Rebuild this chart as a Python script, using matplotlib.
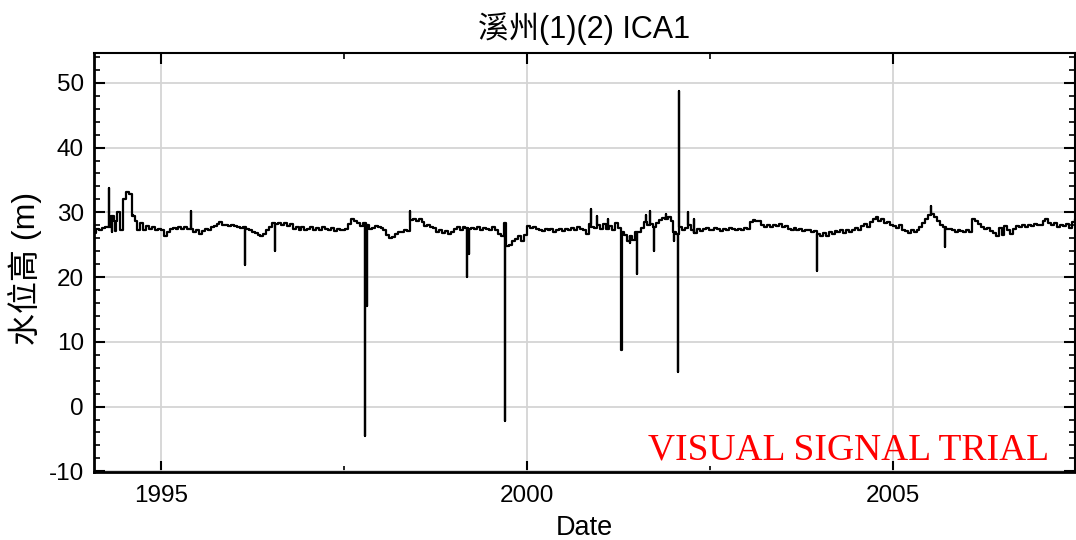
import matplotlib
matplotlib.use("Agg")
import matplotlib.pyplot as plt
from matplotlib.ticker import MultipleLocator, FixedLocator, FormatStrFormatter

plt.rcParams['font.family'] = ['Liberation Sans', 'Noto Sans CJK TC']
plt.rcParams['axes.unicode_minus'] = False

title_text = "溪州(1)(2) ICA1"
y_label = "水位高 (m)"
x_label = "Date"
watermark = "VISUAL SIGNAL TRIAL"

# Baseline water level, 25 samples per year (roughly every two weeks)
samples_per_year = 25
lvl_1994 = [26.4, 26.6, 26.8, 27.4, 27.2, 27.6, 27.7, 27.8, 29.5, 28.6, 30.0, 27.2, 32.0,
            33.2, 32.8, 29.5, 28.6, 27.3, 28.4, 27.2, 27.9, 27.4, 27.7, 27.3, 27.5]
lvl_1995 = [27.2, 26.3, 26.9, 27.5, 27.6, 27.4, 27.7, 27.5, 27.8, 27.4, 27.5, 27.0, 27.3,
            26.7, 27.1, 27.5, 27.3, 27.8, 27.9, 28.2, 28.5, 28.1, 28.0, 27.9, 28.0]
lvl_1996 = [27.9, 27.8, 27.6, 27.7, 27.5, 27.2, 27.0, 26.8, 26.5, 26.3, 26.7, 27.2, 27.8,
            28.3, 28.2, 28.4, 28.1, 28.3, 27.9, 28.2, 27.5, 27.8, 27.3, 27.7, 27.2]
lvl_1997 = [27.4, 27.7, 27.2, 27.6, 27.3, 27.8, 27.5, 27.2, 27.6, 27.1, 27.5, 27.3, 27.2,
            27.4, 28.2, 29.0, 28.6, 28.3, 27.9, 28.4, 28.0, 27.5, 27.6, 27.9, 27.7]
lvl_1998 = [27.6, 27.2, 26.5, 26.0, 26.2, 26.6, 26.9, 27.0, 27.3, 27.1, 28.8, 28.9, 28.6,
            29.0, 28.5, 27.9, 28.1, 27.8, 27.6, 27.0, 27.2, 26.8, 27.1, 26.7, 27.0]
lvl_1999 = [27.5, 27.7, 27.3, 27.8, 27.6, 27.4, 27.6, 27.4, 27.8, 27.2, 27.6, 27.5, 27.3,
            27.7, 27.2, 26.6, 26.4, 28.3, 24.8, 25.0, 25.5, 25.9, 26.3, 25.6, 26.5]
lvl_2000 = [27.9, 27.6, 27.8, 27.5, 27.3, 27.1, 27.4, 27.2, 27.5, 27.0, 27.3, 27.4, 27.1,
            27.5, 27.2, 27.6, 27.3, 27.7, 27.4, 27.2, 26.6, 28.2, 27.8, 27.6, 28.0]
lvl_2001 = [27.5, 28.2, 27.4, 27.9, 27.2, 28.3, 27.6, 26.9, 26.5, 25.6, 26.4, 25.8, 26.9,
            27.0, 27.6, 28.5, 28.0, 28.2, 27.8, 28.3, 28.8, 29.1, 28.9, 29.2, 28.7]
lvl_2002 = [27.0, 26.6, 27.8, 27.3, 27.6, 28.0, 27.2, 26.8, 27.5, 27.1, 27.4, 27.6, 27.2,
            27.3, 27.6, 27.4, 27.1, 27.5, 27.3, 27.6, 27.4, 27.2, 27.5, 27.3, 27.6]
lvl_2003 = [27.5, 28.5, 28.8, 28.7, 28.6, 28.0, 27.8, 28.1, 27.7, 28.0, 27.9, 28.2, 27.8,
            27.9, 27.5, 27.3, 27.6, 27.2, 27.4, 27.1, 27.3, 27.2, 27.0, 27.1, 26.6]
lvl_2004 = [26.3, 26.8, 26.4, 27.0, 26.6, 27.1, 26.9, 27.2, 26.8, 27.3, 27.0, 27.2, 27.6,
            27.3, 27.9, 28.2, 27.8, 28.5, 28.9, 29.2, 28.7, 28.9, 28.3, 28.5, 28.0]
lvl_2005 = [27.9, 27.6, 28.0, 27.3, 27.1, 26.8, 27.2, 26.9, 27.3, 27.8, 28.3, 29.0, 29.6,
            29.8, 29.2, 28.6, 28.0, 27.7, 27.4, 27.5, 27.2, 27.0, 27.3, 27.1, 26.9]
lvl_2006 = [27.2, 27.0, 28.9, 28.6, 28.2, 27.8, 27.5, 27.6, 27.1, 26.8, 26.3, 27.6, 26.5,
            27.9, 27.2, 26.7, 27.5, 27.9, 27.7, 28.1, 27.8, 28.0, 27.9, 28.2, 28.0]
lvl_2007 = [28.1, 28.6, 29.0, 28.4, 28.0, 28.3, 27.8, 28.1, 27.9, 28.2, 27.6, 28.5, 29.0, 28.8]

years = [1994, 1995, 1996, 1997, 1998, 1999, 2000, 2001, 2002, 2003, 2004, 2005, 2006, 2007]
yearly_levels = [lvl_1994, lvl_1995, lvl_1996, lvl_1997, lvl_1998, lvl_1999, lvl_2000,
                 lvl_2001, lvl_2002, lvl_2003, lvl_2004, lvl_2005, lvl_2006, lvl_2007]

# Single-day readings that jump away from the baseline
spike_times = [1994.29, 1994.33, 1994.38, 1994.62, 1995.41, 1996.15, 1996.56, 1997.79,
               1997.81, 1998.40, 1999.18, 1999.21, 1999.70, 2000.87, 2000.95, 2001.10,
               2001.29, 2001.40, 2001.50, 2001.62, 2001.68, 2001.73, 2001.90, 2002.01,
               2002.06, 2002.07, 2002.20, 2002.28, 2003.96, 2005.52, 2005.71]
spike_values = [33.7, 26.9, 27.1, 29.6, 30.2, 21.9, 24.0, -4.6,
                15.5, 30.2, 20.0, 23.5, -2.3, 30.5, 29.4, 29.0,
                8.7, 25.2, 20.4, 29.6, 30.2, 24.0, 29.8, 25.5,
                5.4, 48.7, 30.1, 29.0, 21.0, 30.9, 24.7]

x_major = [1995, 2000, 2005]
x_minor = [1997.5, 2002.5]

base_t, base_v = [], []
for yr, vals in zip(years, yearly_levels):
    for k, val in enumerate(vals):
        base_t.append(yr + k / samples_per_year)
        base_v.append(val)

# Merge spikes into the stepped series as near-instant excursions
points = list(zip(base_t, base_v))
for st, sv in zip(spike_times, spike_values):
    prev = max(i for i, t in enumerate(base_t) if t <= st)
    points.append((st, sv))
    points.append((st + 0.002, base_v[prev]))
points.sort(key=lambda p: p[0])
times = [p[0] for p in points]
levels = [p[1] for p in points]

W, H = 1076, 540
fig = plt.figure(figsize=(W / 100, H / 100), dpi=100)
ax = fig.add_axes([93.5 / W, 1 - 472 / H, (1076 - 93.5) / W - 0.0005, (472 - 53) / H])

ax.plot(times, levels, color='black', lw=1.6, drawstyle='steps-post', zorder=3)

ax.set_xlim(1994.08, 2007.49)
ax.set_ylim(-10.1, 54.6)

ax.xaxis.set_major_locator(FixedLocator(x_major))
ax.xaxis.set_minor_locator(FixedLocator(x_minor))
ax.xaxis.set_major_formatter(FormatStrFormatter('%d'))
ax.yaxis.set_major_locator(MultipleLocator(10))
ax.yaxis.set_minor_locator(MultipleLocator(2))

ax.grid(True, which='major', color='#d4d4d4', lw=1.3, zorder=0)
ax.set_axisbelow(True)

ax.tick_params(which='both', direction='in', top=True, right=True, colors='black')
ax.tick_params(which='major', length=8, width=1.5, labelsize=17.5, pad=7)
ax.tick_params(which='minor', length=4, width=1.2)
ax.tick_params(axis='x', which='major', pad=9)

for side, sp in ax.spines.items():
    sp.set_color('black')
    sp.set_linewidth(2.0 if side in ('left', 'bottom') else 1.5)

ax.set_title(title_text, fontsize=22, pad=11)
ax.set_xlabel(x_label, fontsize=19.5, labelpad=6)
ax.set_ylabel(y_label, fontsize=23)
ax.yaxis.set_label_coords(-0.052, 0.485)

fig.text(1049 / W, 1 - 460 / H, watermark, color='red', fontsize=27,
         family='Liberation Serif', ha='right', va='baseline', zorder=5)

fig.savefig('out.png', dpi=100)
